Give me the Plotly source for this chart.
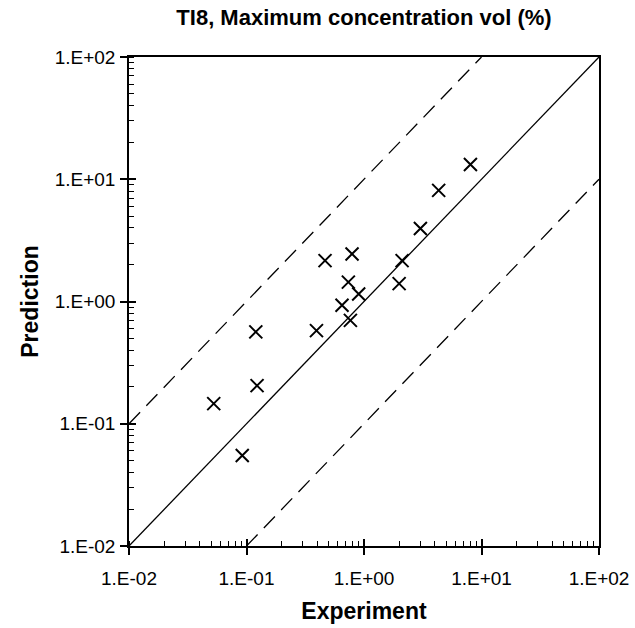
import plotly.graph_objects as go

experiment = [0.0526, 0.123, 0.092, 0.120, 0.394, 0.466, 0.791, 0.736, 0.650, 0.901, 0.766, 2.11, 1.99, 3.02, 4.32, 8.05]
prediction = [0.146, 0.205, 0.055, 0.564, 0.578, 2.16, 2.45, 1.44, 0.931, 1.15, 0.701, 2.16, 1.40, 3.95, 8.11, 13.2]

line_x = [0.01, 100]
upper_x = [0.01, 10]
lower_x = [0.1, 100]
factor = 10

tick_vals = [0.01, 0.1, 1, 10, 100]
tick_text = ["1.E-02", "1.E-01", "1.E+00", "1.E+01", "1.E+02"]

FONT = "Liberation Sans, Arial"

fig = go.Figure()
fig.add_trace(go.Scatter(x=line_x, y=line_x, mode="lines",
                         line=dict(color="black", width=1.3), hoverinfo="skip"))
fig.add_trace(go.Scatter(x=upper_x, y=[v * factor for v in upper_x], mode="lines",
                         line=dict(color="black", width=1.3, dash="16px,9px"), hoverinfo="skip"))
fig.add_trace(go.Scatter(x=lower_x, y=[v / factor for v in lower_x], mode="lines",
                         line=dict(color="black", width=1.3, dash="16px,9px"), hoverinfo="skip"))
fig.add_trace(go.Scatter(x=experiment, y=prediction, mode="markers",
                         marker=dict(symbol="x-thin", size=13, line=dict(color="black", width=2))))
# invisible trace to carry the inner tick overlay axes
fig.add_trace(go.Scatter(x=line_x, y=line_x, mode="markers", xaxis="x2", yaxis="y2",
                         marker=dict(opacity=0), hoverinfo="skip"))

axis_common = dict(
    type="log", range=[-2, 2], tickvals=tick_vals, ticktext=tick_text,
    automargin=False, ticklabeloverflow="allow",
    showgrid=False, zeroline=False, showline=True, linecolor="black", linewidth=1.5,
    mirror=True, ticks="outside", ticklen=7, tickwidth=1.5, tickcolor="black",
    tickfont=dict(family=FONT, size=19, color="black"),
    minor=dict(ticks="inside", ticklen=5, tickwidth=1, tickcolor="black", showgrid=False, dtick="D1"),
)
inner_common = dict(
    type="log", range=[-2, 2], tickvals=tick_vals, showticklabels=False,
    automargin=False,
    showgrid=False, zeroline=False, showline=False,
    ticks="inside", ticklen=7, tickwidth=1.5, tickcolor="black",
)

fig.update_layout(
    width=635, height=628,
    margin=dict(l=129, r=36, t=57, b=82),
    paper_bgcolor="white", plot_bgcolor="white",
    showlegend=False,
    title=dict(text="<b>TI8, Maximum concentration vol (%)</b>", x=364 / 635, xanchor="center",
               y=1 - 17 / 628, yanchor="middle",
               font=dict(family=FONT, size=22, color="black")),
    xaxis=dict(axis_common, ticklabelstandoff=7,
               title=dict(text="<b>Experiment</b>", standoff=15,
                          font=dict(family=FONT, size=23, color="black"))),
    yaxis=dict(axis_common, ticklabelstandoff=1,
               title=dict(text="<b>Prediction</b>", standoff=10,
                          font=dict(family=FONT, size=23, color="black"))),
    xaxis2=dict(inner_common, overlaying="x", anchor="y"),
    yaxis2=dict(inner_common, overlaying="y", anchor="x", side="left"),
)

fig.write_html("out.html", config={"displayModeBar": False},
               post_script="document.body.style.margin='0';document.body.style.overflow='hidden';")
